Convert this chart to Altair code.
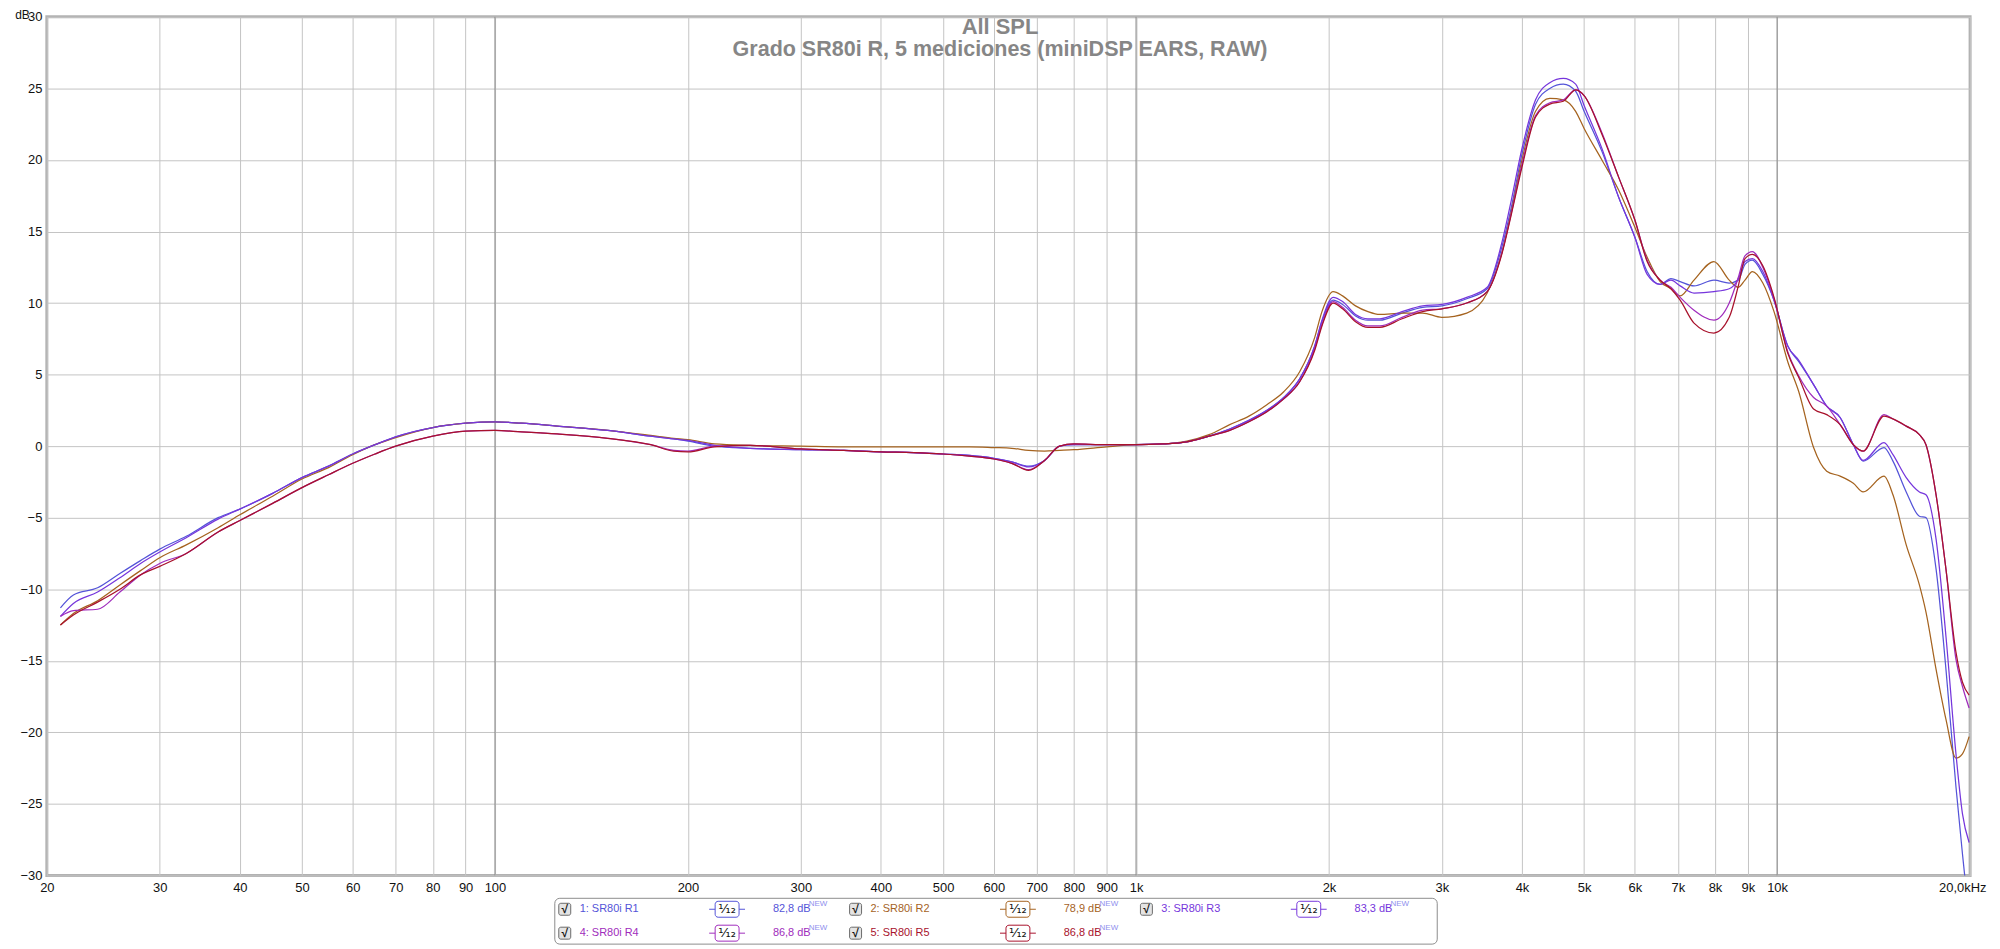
import altair as alt
import pandas as pd

# ---------------- data ----------------
freq_hz = [21, 22, 24, 26, 28, 30, 33, 37, 40, 45, 50, 55, 60, 65, 70, 80, 90, 100,
           110, 125, 150, 175, 190, 200, 220, 250, 300, 350, 400, 450, 500, 550, 600, 640, 680, 720, 760, 800, 900, 1000,
           1100, 1200, 1300, 1400, 1500, 1600, 1700, 1800, 1900, 1950, 2030, 2100, 2200, 2300, 2400, 2600, 2800, 3000,
           3280, 3530, 3720, 3850, 4000, 4200, 4420, 4640, 4850, 5000, 5330, 5660, 6000, 6270, 6570, 6830, 7060, 7420,
           7970, 8420, 8700, 8910, 9150, 9500, 9890,
           10390, 10810, 11400, 11950, 12540, 13150, 13620, 14680, 15160, 15900, 16670, 17070, 17700, 18340, 19010, 19460, 19930]

r1_db = [-11.3, -10.4, -9.9, -8.9, -8.0, -7.2, -6.3, -5.0, -4.4, -3.3, -2.2, -1.4, -0.55, 0.1, 0.65, 1.3, 1.6, 1.7,
         1.6, 1.4, 1.1, 0.7, 0.5, 0.35, 0.0, -0.15, -0.25, -0.3, -0.4, -0.45, -0.55, -0.65, -0.85, -1.1, -1.4, -1.0, 0.0, 0.1, 0.1, 0.1,
         0.15, 0.3, 0.7, 1.2, 1.8, 2.5, 3.4, 4.7, 7.0, 8.7, 10.2, 9.9, 9.1, 8.8, 8.8, 9.3, 9.7, 9.8,
         10.3, 11.0, 13.9, 16.7, 20.4, 23.9, 25.0, 25.3, 24.8, 23.4, 20.6, 17.4, 14.6, 12.2, 11.3, 11.7, 11.5, 11.2,
         11.6, 11.4, 11.6, 12.7, 13.0, 12.0, 10.2,
         7.0, 5.9, 4.3, 2.8, 2.0, 0.1, -1.05, -0.1, -1.05, -3.2, -4.9, -5.0, -8.6, -15.6, -23.8, -28.5, -33.0]

r2_db = [-12.5, -11.7, -10.8, -9.7, -8.7, -7.8, -6.9, -5.7, -4.8, -3.5, -2.3, -1.5, -0.6, 0.1, 0.6, 1.3, 1.6, 1.7,
         1.6, 1.4, 1.1, 0.75, 0.55, 0.45, 0.15, 0.05, 0.0, -0.05, -0.05, -0.05, -0.05, -0.05, -0.1, -0.15, -0.3, -0.35, -0.3, -0.25, -0.05, 0.1,
         0.15, 0.35, 0.8, 1.5, 2.1, 2.9, 3.8, 5.2, 7.6, 9.4, 10.8, 10.5, 9.8, 9.4, 9.2, 9.3, 9.3, 9.0,
         9.3, 10.7, 13.5, 16.4, 20.0, 23.4, 24.3, 24.2, 23.4, 22.2, 20.0, 17.9, 15.3, 13.2, 11.5, 11.0, 10.5, 11.6,
         12.9, 11.6, 11.1, 11.6, 12.2, 11.4, 9.4,
         5.9, 3.8, -0.1, -1.75, -2.1, -2.6, -3.2, -2.1, -3.4, -6.9, -9.7, -11.6, -15.6, -19.1, -21.8, -21.5, -20.3]

r3_db = [-11.9, -11.0, -10.2, -9.2, -8.2, -7.4, -6.4, -5.1, -4.4, -3.3, -2.2, -1.4, -0.55, 0.1, 0.65, 1.3, 1.6, 1.7,
         1.6, 1.4, 1.1, 0.7, 0.5, 0.4, 0.05, -0.15, -0.25, -0.3, -0.4, -0.45, -0.55, -0.65, -0.85, -1.1, -1.45, -1.0, 0.0, 0.1, 0.1, 0.1,
         0.15, 0.3, 0.7, 1.2, 1.8, 2.5, 3.4, 4.7, 7.0, 8.8, 10.4, 10.1, 9.2, 8.9, 8.9, 9.4, 9.8, 9.9,
         10.4, 11.1, 14.2, 17.2, 20.8, 24.2, 25.4, 25.7, 25.3, 23.8, 20.8, 17.4, 14.6, 12.0, 11.3, 11.6, 11.2, 10.7,
         10.8, 11.0, 11.7, 12.9, 13.1, 12.2, 10.2,
         7.0, 6.0, 4.3, 2.8, 2.0, 0.1, -1.0, 0.25, -0.6, -2.2, -3.2, -3.4, -6.5, -13.3, -21.5, -25.7, -27.7]

r4_db = [-11.9, -11.5, -11.4, -10.2, -9.0, -8.2, -7.5, -6.0, -5.2, -4.0, -2.9, -2.0, -1.2, -0.55, 0.0, 0.7, 1.05, 1.1,
         1.0, 0.85, 0.55, 0.1, -0.3, -0.35, 0.0, 0.05, -0.2, -0.3, -0.4, -0.45, -0.55, -0.7, -0.9, -1.2, -1.65, -1.0, 0.0, 0.15, 0.1, 0.1,
         0.15, 0.3, 0.7, 1.1, 1.7, 2.4, 3.3, 4.5, 6.8, 8.5, 10.1, 9.7, 8.8, 8.4, 8.4, 9.0, 9.5, 9.6,
         10.0, 10.8, 13.5, 16.3, 19.7, 23.1, 24.0, 24.2, 24.9, 24.5, 21.9, 18.8, 15.8, 13.0, 11.6, 11.1, 10.4, 9.5,
         8.8, 10.0, 11.8, 13.3, 13.6, 12.5, 10.3,
         6.6, 4.9, 3.4, 2.8, 1.5, 0.1, -0.35, 2.2, 1.9, 1.4, 0.8, 0.1, -3.4, -8.6, -14.9, -16.8, -18.3]

r5_db = [-12.5, -11.8, -10.9, -10.0, -9.0, -8.4, -7.5, -6.0, -5.2, -4.0, -2.9, -2.0, -1.2, -0.55, 0.0, 0.7, 1.05, 1.1,
         1.0, 0.85, 0.55, 0.1, -0.35, -0.4, -0.05, 0.05, -0.2, -0.3, -0.4, -0.45, -0.55, -0.7, -0.9, -1.2, -1.7, -1.0, 0.0, 0.15, 0.1, 0.1,
         0.15, 0.3, 0.7, 1.1, 1.7, 2.4, 3.3, 4.5, 6.7, 8.4, 10.0, 9.6, 8.7, 8.3, 8.3, 8.9, 9.4, 9.6,
         10.0, 10.8, 13.4, 16.2, 19.5, 23.0, 23.9, 24.1, 24.9, 24.5, 21.8, 18.8, 15.8, 12.9, 11.6, 11.0, 10.2, 8.6,
         7.9, 9.0, 11.2, 13.1, 13.4, 12.6, 10.4,
         6.5, 4.8, 2.6, 2.2, 1.5, 0.1, -0.35, 2.1, 1.9, 1.4, 0.8, 0.1, -3.4, -8.6, -14.4, -16.5, -17.4]

series_names = ["1: SR80i R1", "2: SR80i R2", "3: SR80i R3", "4: SR80i R4", "5: SR80i R5"]
series_colors = ["#5454d8", "#a5631f", "#7636dc", "#a02cbc", "#a8122c"]
series_values = [r1_db, r2_db, r3_db, r4_db, r5_db]
legend_spl = ["82,8 dB", "78,9 dB", "83,3 dB", "86,8 dB", "86,8 dB"]
legend_col = [0, 1, 2, 0, 1]
legend_row = [0, 0, 0, 1, 1]

y_ticks = [-30, -25, -20, -15, -10, -5, 0, 5, 10, 15, 20, 25, 30]
x_ticks = [20, 30, 40, 50, 60, 70, 80, 90, 100, 200, 300, 400, 500, 600, 700, 800, 900,
           1000, 2000, 3000, 4000, 5000, 6000, 7000, 8000, 9000, 10000, 20000]
x_tick_labels = ["20", "30", "40", "50", "60", "70", "80", "90", "100", "200", "300", "400", "500", "600",
                 "700", "800", "900", "1k", "2k", "3k", "4k", "5k", "6k", "7k", "8k", "9k", "10k", "20,0kHz"]
decade_lines = [100, 1000, 10000]

title_main = "All SPL"
title_sub = "Grado SR80i R, 5 mediciones (miniDSP EARS, RAW)"

# ---------------- layout ----------------
W, H = 1931, 862
NARROW = "Liberation Sans Narrow, Arial Narrow, Liberation Sans, sans-serif"
SANS = "Liberation Sans, Arial, sans-serif"

rows = []
for name, vals in zip(series_names, series_values):
    for f, v in zip(freq_hz, vals):
        rows.append({"series": name, "freq": f, "db": v})
df = pd.DataFrame(rows)

xscale = alt.Scale(type="log", domain=[20, 20000], nice=False)
yscale = alt.Scale(domain=[-30, 30], nice=False, zero=False)
cscale = alt.Scale(domain=series_names, range=series_colors)

label_expr = " : ".join(f"datum.value == {v} ? '{l}'" for v, l in zip(x_ticks, x_tick_labels)) + " : ''"
last_tick = x_ticks[-1]

xaxis = alt.Axis(values=x_ticks, labelExpr=label_expr, grid=True, gridColor="#c4c4c4", gridWidth=1,
                 ticks=False, domain=False, labelFont=NARROW, labelFontSize=13, labelColor="#111111",
                 labelPadding=6, labelOverlap=False, labelFlush=False, title=None,
                 labelAlign=alt.condition(f"datum.value == {last_tick}", alt.value("right"), alt.value("center")),
                 labelOffset=alt.condition(f"datum.value == {last_tick}", alt.value(16), alt.value(0)))
yaxis = alt.Axis(values=y_ticks, grid=True, gridColor="#c4c4c4", gridWidth=1, ticks=False, domain=False,
                 labelFont=NARROW, labelFontSize=13, labelColor="#111111", labelPadding=5,
                 labelOverlap=False, labelFlush=False,
                 title="dB", titleAngle=0, titleX=-25, titleY=-7, titleAlign="center",
                 titleBaseline="top", titleFont=NARROW, titleFontSize=12, titleFontWeight="normal",
                 titleColor="#111111")

rules = alt.Chart(pd.DataFrame({"freq": decade_lines})).mark_rule(color="#8a8a8a", strokeWidth=1).encode(
    x=alt.X("freq:Q", scale=xscale, axis=xaxis)
)

lines = alt.Chart(df).mark_line(strokeWidth=1.25, clip=True, interpolate="monotone").encode(
    x=alt.X("freq:Q", scale=xscale, axis=xaxis),
    y=alt.Y("db:Q", scale=yscale, axis=yaxis),
    color=alt.Color("series:N", scale=cscale, legend=None),
)

one = pd.DataFrame({"k": [0]})
t1 = alt.Chart(one).mark_text(text=title_main, font=SANS, fontSize=22, fontWeight="bold", color="#868686",
                              align="center", baseline="middle").encode(x=alt.value(957), y=alt.value(10))
t2 = alt.Chart(one).mark_text(text=title_sub, font=SANS, fontSize=21.6, fontWeight="bold", color="#868686",
                              align="center", baseline="middle").encode(x=alt.value(957), y=alt.value(33))

layers = [rules, lines, t1, t2]

# legend panel (chart coordinates = page coordinates - (47, 15))
layers.append(alt.Chart(one).mark_rect(fill="white", stroke="#8c8c8c", strokeWidth=1, cornerRadius=5).encode(
    x=alt.value(510), x2=alt.value(1396), y=alt.value(885), y2=alt.value(931)))

ROW_Y = [896, 920]
COL_W = 292
for i, name in enumerate(series_names):
    c, r = legend_col[i], legend_row[i]
    yy = ROW_Y[r]
    col = series_colors[i]
    cbx = 520 + COL_W * c
    # checkbox
    layers.append(alt.Chart(one).mark_rect(fill="#e4e4e4", stroke="#6a6a6a", strokeWidth=1, cornerRadius=2).encode(
        x=alt.value(cbx - 6), x2=alt.value(cbx + 6), y=alt.value(yy - 6), y2=alt.value(yy + 6)))
    layers.append(alt.Chart(one).mark_text(text="√", font=SANS, fontSize=12, fontWeight="bold", color="#111111",
                                           align="center", baseline="middle").encode(x=alt.value(cbx), y=alt.value(yy)))
    # label
    layers.append(alt.Chart(one).mark_text(text=name, font=NARROW, fontSize=11, color=col,
                                           align="left", baseline="middle").encode(x=alt.value(535 + COL_W * c), y=alt.value(yy)))
    # smoothing box
    fx = 683 + COL_W * c
    layers.append(alt.Chart(one).mark_rule(color=col, strokeWidth=1).encode(
        x=alt.value(fx - 18), x2=alt.value(fx + 18), y=alt.value(yy)))
    layers.append(alt.Chart(one).mark_rect(fill="white", stroke=col, strokeWidth=1, cornerRadius=3).encode(
        x=alt.value(fx - 12), x2=alt.value(fx + 12), y=alt.value(yy - 8), y2=alt.value(yy + 8)))
    layers.append(alt.Chart(one).mark_text(text="¹⁄₁₂", font="DejaVu Sans", fontSize=13, color="#111111",
                                           align="center", baseline="middle").encode(x=alt.value(fx), y=alt.value(yy)))
    # level text
    vx = 729 + COL_W * c
    layers.append(alt.Chart(one).mark_text(text=legend_spl[i], font=NARROW, fontSize=11, color=col,
                                           align="left", baseline="middle").encode(x=alt.value(vx), y=alt.value(yy)))
    layers.append(alt.Chart(one).mark_text(text="NEW", font=NARROW, fontSize=8, color="#9090ee",
                                           align="left", baseline="middle").encode(x=alt.value(vx + 36), y=alt.value(yy - 5)))

chart = alt.layer(*layers).properties(
    width=W, height=H,
    padding={"left": 39, "top": 7, "right": 22, "bottom": 72},
    autosize=alt.AutoSizeParams(type="none"),
    background="white",
).configure_view(stroke="#b2b2b2", strokeWidth=3)

chart.save("out.html", embed_options={"renderer": "svg", "actions": False})
